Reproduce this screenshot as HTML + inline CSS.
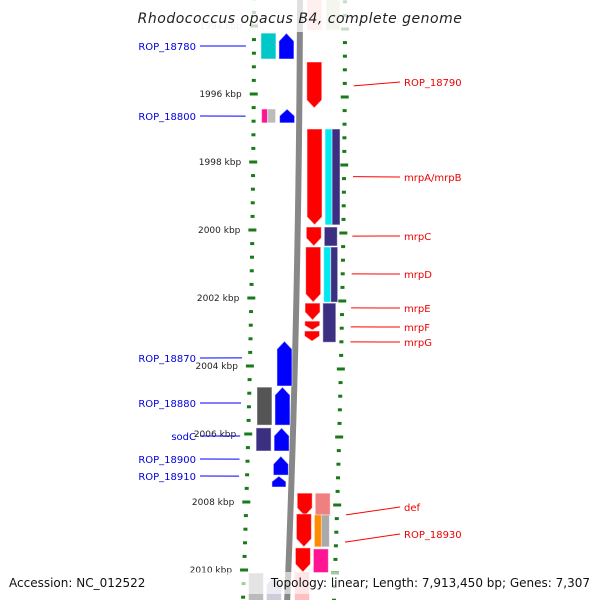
<!DOCTYPE html>
<html><head><meta charset="utf-8">
<style>
html,body{margin:0;padding:0;background:#fff;}
svg{display:block;font-family:"DejaVu Sans","Liberation Sans",sans-serif;}
</style></head>
<body>
<svg id="c" width="600" height="600" viewBox="0 0 600 600" xmlns="http://www.w3.org/2000/svg"></svg>
<script>
const tickKbp=[1994,1996,1998,2000,2002,2004,2006,2008,2010];
const geneStarts=[1994.21,1994.21,1996.44,1996.44,2003.27,2004.62,2004.62,2005.82,2005.82,2006.65,2007.24,2010.09,2010.2,1993.2,1993.2,1995.06,1997.03,1997.03,1997.03,1999.91,1999.91,2000.5,2000.5,2000.5,2002.15,2002.15,2002.68,2002.97,2007.74,2007.74,2008.35,2008.38,2008.38,2009.35,2009.38,2010.06,1996.44];
const geneEnds=[1994.97,1994.97,1996.85,1996.85,2004.59,2005.74,2005.74,2006.5,2006.5,2007.21,2007.56,2010.9,2010.9,1994.12,1994.12,1996.41,1999.85,1999.85,1999.85,2000.47,2000.47,2002.12,2002.12,2002.12,2002.65,2003.3,2002.94,2003.27,2008.41,2008.41,2009.32,2009.32,2009.32,2010.06,2010.09,2010.9,1996.85];
const geneLabels=["ROP_18780","ROP_18800","ROP_18870","ROP_18880","sodC","ROP_18900","ROP_18910","ROP_18790","mrpA/mrpB","mrpC","mrpD","mrpE","mrpF","mrpG","def","ROP_18930"];
const labelKbp=[1994.59,1996.65,2003.76,2005.09,2006.06,2006.74,2007.24,1995.76,1998.43,2000.18,2001.29,2002.29,2002.85,2003.29,2008.38,2009.18];
const labelY=[46,116,358,403,436,459,476,82,177,236,274,308,327,342,507,534];
// layout (not data)
const lanes=[[261,15,'#00c8c8',0],[279,15,'#0000ff',1],[262,6,'#ff1493',0],[280,15,'#0000ff',1],[281,15,'#0000ff',1],[262,15,'#555',0],[280,15,'#0000ff',1],[262,15,'#3a2f80',0],[280,15,'#0000ff',1],[280,15,'#0000ff',1],[279,14,'#0000ff',1],[259,15,'#bbb',0],[277,15,'#ccd',1],
[307,15,'#ffc0c0',0],[326,14,'#d8d8c0',0],[307,15,'#ff0000',-1],[308,15,'#ff0000',-1],[326,7,'#00e8f0',0],[333,8,'#3a2f80',0],[308,15,'#ff0000',-1],[326,13,'#3a2f80',0],[308,15,'#ff0000',-1],[326,7,'#00e8f0',0],[333,7,'#3a2f80',0],[308,15,'#ff0000',-1],[326,13,'#3a2f80',0],[308,15,'#ff0000',-1],[308,15,'#ff0000',-1],[305,15,'#ff0000',-1],[323,15,'#f08080',0],[305,15,'#ff0000',-1],[323,8,'#ff8c00',0],[330,8,'#aaa',0],[305,15,'#ff0000',-1],[323,15,'#ff1493',0],[305,15,'#ffc0c0',0],[268,8,'#bbb',0]];
const S=document.getElementById('c');const NS='http://www.w3.org/2000/svg';
function y(k){return 94+(k-1996)*34;}
function sk(yy){return -11*(yy/600)*(yy/600);}
function el(t,a,p){const e=document.createElementNS(NS,t);for(const k in a)e.setAttribute(k,a[k]);(p||S).appendChild(e);return e;}
// backbone
let bl=[],br=[];for(let yy=0;yy<=600;yy+=20){bl.push((297+sk(yy)-0.003*yy)+','+yy);br.push((303+sk(yy)-0.003*yy)+','+yy);}
const bb=el('polygon',{points:bl.concat(br.reverse()).join(' '),fill:'#888'});


// dots
for(let k=1993.2;k<=2010.95;k+=0.4){const yy=y(k);const maj=Math.abs(k-Math.round(k/2)*2)<0.05;
 const w=maj?8:4;
 const d1=el('rect',{x:254+sk(yy)-w/2,y:yy-1.5,width:w,height:3,fill:'#1a7a1a'});
 
 
 const yr=yy+3;const d2=el('rect',{x:345+sk(yr)-w/2,y:yr-1.5,width:w,height:3,fill:'#1a7a1a'});
 
 }
tickKbp.forEach(k=>{const yy=y(k);const t=el('text',{x:242+sk(yy),y:yy+3,'font-size':'9','text-anchor':'end',fill:k==1994?'#ccc':'#222'});t.textContent=k+' kbp';
 
 });
// genes
geneStarts.forEach((s,i)=>{const L=lanes[i];const y0=y(s),y1=y(geneEnds[i]);const xm=sk((y0+y1)/2);const x=L[0]+xm,w=L[1];let pts;
 const a=Math.min(8,(y1-y0)/2);
 if(L[3]==1)pts=[[x,y1],[x,y0+a],[x+w/2,y0],[x+w,y0+a],[x+w,y1]];
 else if(L[3]==-1)pts=[[x,y0],[x+w,y0],[x+w,y1-a],[x+w/2,y1],[x,y1-a]];
 else pts=[[x,y0],[x+w,y0],[x+w,y1],[x,y1]];
 const p=el('polygon',{points:pts.map(q=>q.join(',')).join(' '),fill:L[2],stroke:'rgba(255,255,255,0.5)','stroke-width':1});
 
 });
// top fade
el('rect',{x:0,y:0,width:600,height:32,fill:'rgba(255,255,255,0.75)'});
// labels
geneLabels.forEach((n,i)=>{const left=i<7;const yy=labelY[i];const ty=y(labelKbp[i]);
 if(left){el('line',{x1:200,y1:yy,x2:246+sk(ty),y2:ty,stroke:'#0000ff','stroke-width':1});}
 else{el('line',{x1:354+sk(ty),y1:ty,x2:400,y2:yy,stroke:'#ff0000','stroke-width':1});}
 const t=el('text',{x:left?196:404,y:yy+4,'font-size':'10','text-anchor':left?'end':'start',fill:left?'#0000dd':'#ee0000'});t.textContent=n;
 
 });
const ti=el('text',{x:300,y:23,'font-size':'14','text-anchor':'middle','font-style':'italic',fill:'#222','letter-spacing':'0.5'});ti.textContent='Rhodococcus opacus B4, complete genome';


el('rect',{x:0,y:572,width:600,height:22,fill:'rgba(255,255,255,0.6)'});
const f1=el('text',{x:9,y:587,'font-size':'12',fill:'#111'});f1.textContent='Accession: NC_012522';


const f2=el('text',{x:590,y:587,'font-size':'12','text-anchor':'end',fill:'#111'});f2.textContent='Topology: linear; Length: 7,913,450 bp; Genes: 7,307';


</script>
</body></html>
